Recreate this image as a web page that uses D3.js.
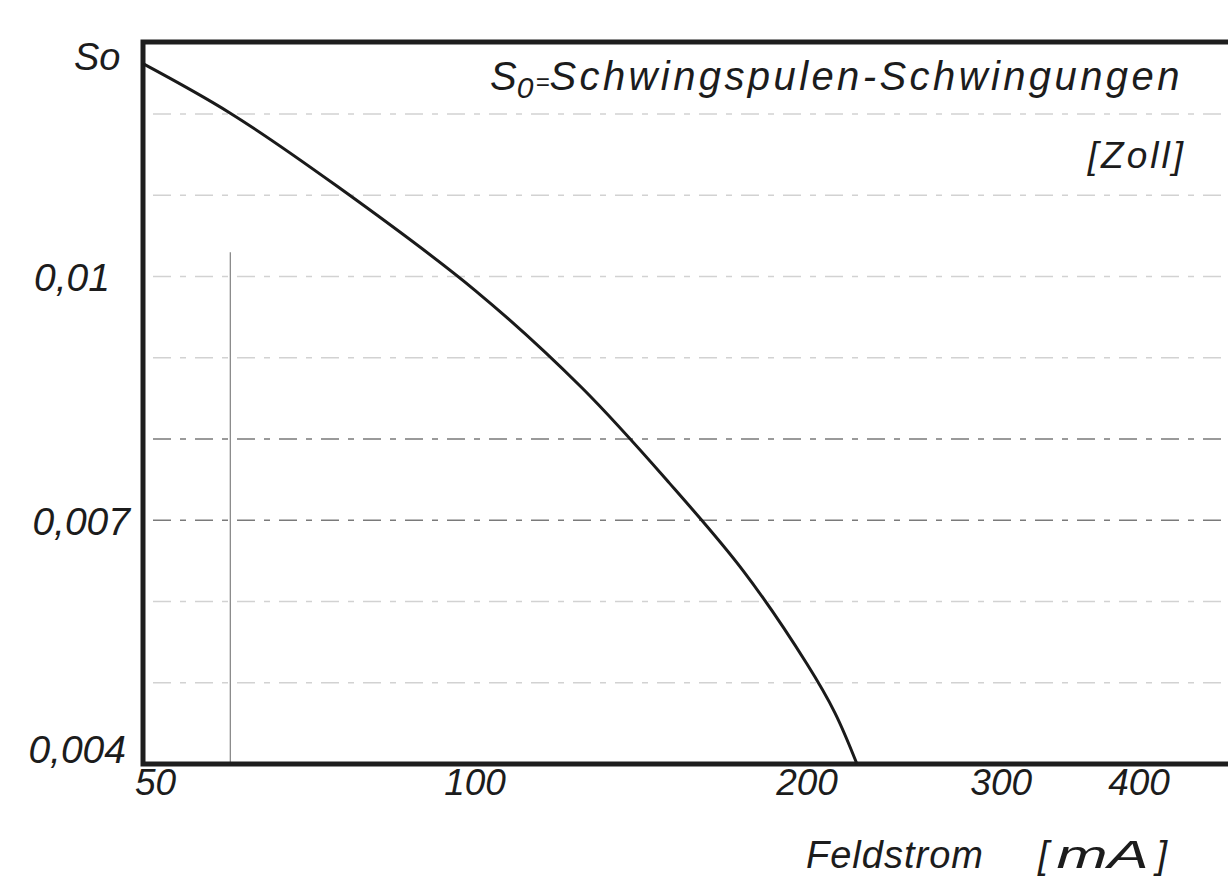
<!DOCTYPE html>
<html>
<head>
<meta charset="utf-8">
<script src="https://cdn.jsdelivr.net/npm/d3@7"></script>
<style>
  html, body { margin: 0; padding: 0; background: #fff; }
  svg { display: block; }
  text { font-family: "Liberation Sans", Arial, sans-serif; font-style: italic; fill: #1c1c1c; }
</style>
</head>
<body>
<svg id="chart" width="1228" height="878"></svg>
<script>
// Voice-coil excursion S0 versus field current
const fieldCurrent = [50, 60, 75, 100, 125, 150, 175, 200, 212, 222];
const amplitude    = [0.01262, 0.01201, 0.01111, 0.00983, 0.00863, 0.00746, 0.00638, 0.00523, 0.00463, 0.0040];

const xTickValues = [50, 100, 200, 300, 400];
const xTickLabels = ["50", "100", "200", "300", "400"];
const yTickValues = [0.01, 0.007, 0.004];
const yTickLabels = ["0,01", "0,007", "0,004"];
const gridValues  = [0.005, 0.006, 0.007, 0.008, 0.009, 0.010, 0.011, 0.012];
const markerCurrent = [60];

const svg = d3.select("#chart");
const W = 1228;

const x = d3.scaleLog().domain([50, 400]).range([143, 1139]);
const y = d3.scaleLinear().domain([0.004, 0.012]).range([764, 114]);
const yTop = 42;

// faint dashed grid lines
const gridStrong = new Set([0.007, 0.008]);
svg.append("g").selectAll("line").data(gridValues).join("line")
  .attr("x1", x(50) + 10).attr("x2", W)
  .attr("y1", d => y(d)).attr("y2", d => y(d))
  .attr("stroke", d => gridStrong.has(+d.toFixed(3)) ? "#7a7a7a" : "#d2d2d2")
  .attr("stroke-width", d => gridStrong.has(+d.toFixed(3)) ? 1.6 : 1.3)
  .attr("stroke-dasharray", "18,9,6,9");

// thin vertical reference line
svg.append("g").selectAll("line").data(markerCurrent).join("line")
  .attr("x1", d => x(d)).attr("x2", d => x(d))
  .attr("y1", y(0.0103)).attr("y2", y(0.004))
  .attr("stroke", "#8a8a8a").attr("stroke-width", 1.3);

// frame
svg.append("path")
  .attr("d", `M${W},${yTop} H${x(50)} V${y(0.004)} H${W}`)
  .attr("fill", "none")
  .attr("stroke", "#1e1e1e")
  .attr("stroke-width", 5)
  .attr("stroke-linejoin", "miter");

// curve
const line = d3.line()
  .x((d, i) => x(fieldCurrent[i]))
  .y(d => y(d))
  .curve(d3.curveCatmullRom.alpha(0.5));
svg.append("path")
  .datum(amplitude)
  .attr("d", line)
  .attr("fill", "none")
  .attr("stroke", "#1a1a1a")
  .attr("stroke-width", 3);

// y labels
const yLabelX = { "0,01": 110, "0,007": 130, "0,004": 126 };
const yLabelDy = { "0,01": 14, "0,007": 15, "0,004": -1 };
svg.append("g").selectAll("text").data(yTickValues).join("text")
  .attr("x", (d, i) => yLabelX[yTickLabels[i]])
  .attr("y", (d, i) => y(d) + yLabelDy[yTickLabels[i]])
  .attr("text-anchor", "end")
  .attr("font-size", 39)
  .text((d, i) => yTickLabels[i]);

svg.append("text")
  .attr("x", 74).attr("y", 70)
  .attr("font-size", 38)
  .text("So");

// x labels
svg.append("g").selectAll("text").data(xTickValues).join("text")
  .attr("x", d => d === 50 ? x(d) - 8 : x(d))
  .attr("y", 795)
  .attr("text-anchor", d => d === 50 ? "start" : "middle")
  .attr("font-size", 37)
  .text((d, i) => xTickLabels[i]);

// axis title
svg.append("text")
  .attr("x", 806).attr("y", 868)
  .attr("font-size", 38)
  .attr("letter-spacing", 1)
  .text("Feldstrom");
const unit = svg.append("text")
  .attr("x", 1038).attr("y", 868)
  .attr("font-size", 38);
unit.append("tspan").text("[");
unit.append("tspan").attr("dx", 8).attr("textLength", 92).attr("lengthAdjust", "spacingAndGlyphs").text("mA");
unit.append("tspan").attr("dx", 8).text("]");

// legend text
const title = svg.append("text")
  .attr("x", 490).attr("y", 90)
  .attr("font-size", 40);
title.append("tspan").text("S");
title.append("tspan").attr("dy", 8).attr("font-size", 30).text("0");
title.append("tspan").attr("dy", -8).attr("font-size", 24).attr("dx", 2).text("=");
title.append("tspan").text("Schwingspulen-Schwingungen")
  .attr("textLength", 630).attr("lengthAdjust", "spacing");

svg.append("text")
  .attr("x", 1186).attr("y", 168)
  .attr("text-anchor", "end")
  .attr("font-size", 37)
  .attr("letter-spacing", 3)
  .text("[Zoll]");
</script>
</body>
</html>
